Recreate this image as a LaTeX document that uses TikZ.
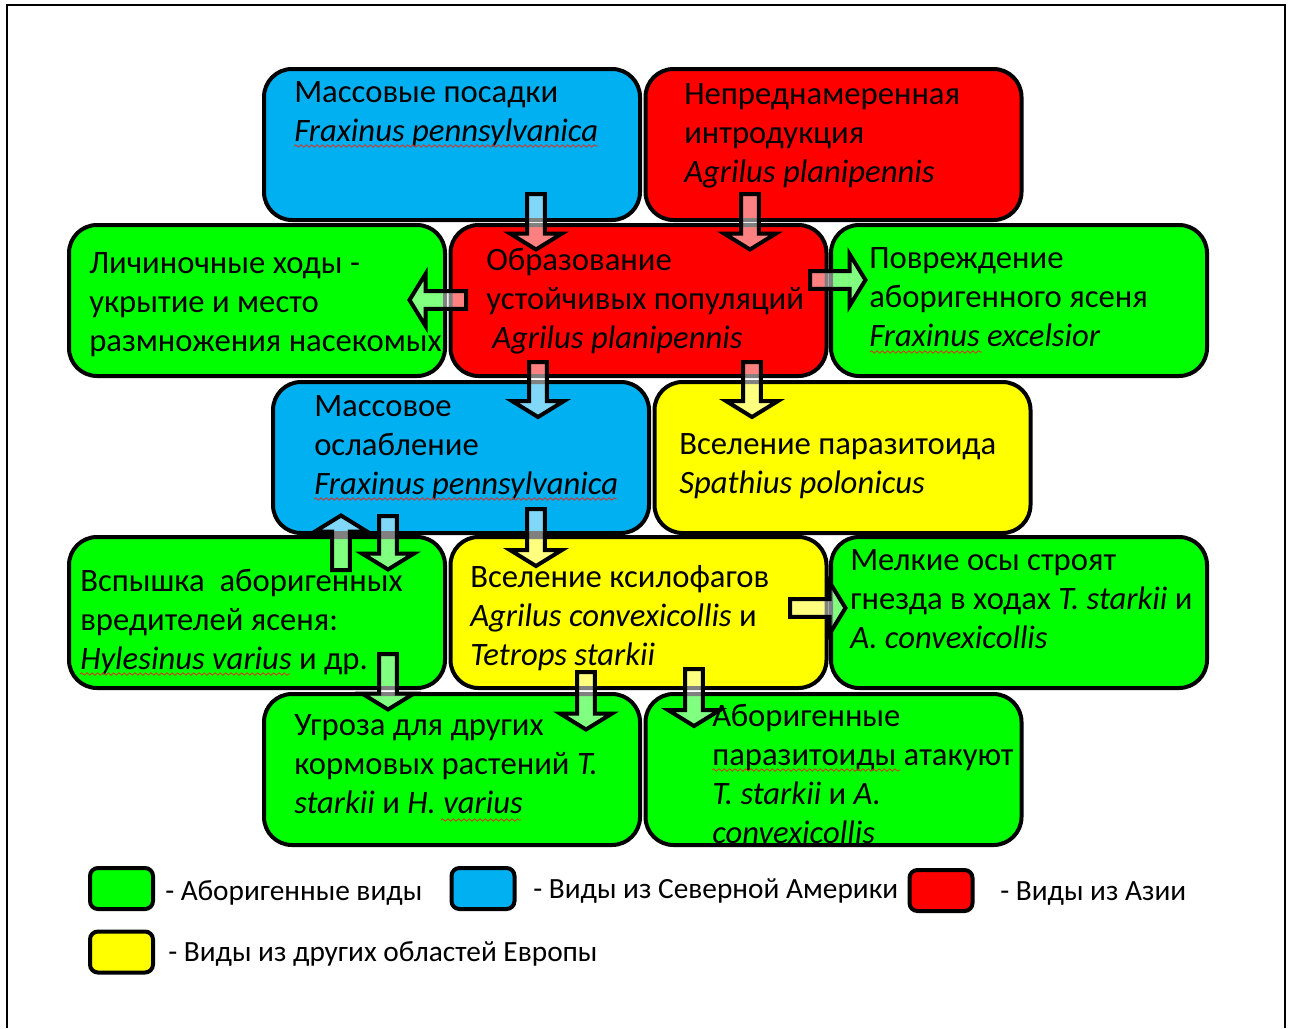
\documentclass[tikz,border=0pt]{standalone}
\usepackage{fontspec}
\setmainfont{Carlito}
\usetikzlibrary{calc,decorations.pathmorphing}
\definecolor{cgreen}{HTML}{00FF00}
\definecolor{cblue}{HTML}{00B0F0}
\definecolor{cred}{HTML}{FF0000}
\definecolor{cyellow}{HTML}{FFFF00}
\definecolor{spellred}{HTML}{E03020}
\newcommand{\blockarrow}[2]{%
 \draw[barrow] let \p1=(#1), \p2=(#2), \n1={veclen(\x2-\x1,\y2-\y1)},
   \n2={(\x2-\x1)/\n1}, \n3={(\y2-\y1)/\n1} in
 ({\x1-(\n3)*6.6pt},{\y1+(\n2)*6.6pt})
 -- ({\x2-(\n2)*12pt-(\n3)*6.6pt},{\y2-(\n3)*12pt+(\n2)*6.6pt})
 -- ({\x2-(\n2)*12pt-(\n3)*19.5pt},{\y2-(\n3)*12pt+(\n2)*19.5pt})
 -- (\p2)
 -- ({\x2-(\n2)*12pt+(\n3)*19.5pt},{\y2-(\n3)*12pt-(\n2)*19.5pt})
 -- ({\x2-(\n2)*12pt+(\n3)*6.6pt},{\y2-(\n3)*12pt-(\n2)*6.6pt})
 -- ({\x1+(\n3)*6.6pt},{\y1-(\n2)*6.6pt}) -- cycle;}
\tikzset{
 box/.style={draw=black, line width=3pt, rounded corners=21pt, minimum width=282pt, minimum height=113.25pt, inner sep=0pt},
 txt/.style={anchor=north west, inner sep=0pt, align=left, font=\fontsize{24.5}{29.25}\selectfont},
 barrow/.style={draw=black, line width=3pt, line join=miter, fill=white, fill opacity=0.5},
 spell/.style={draw=spellred, line width=0.6pt, decorate, decoration={snake, amplitude=0.9pt, segment length=4pt}},
 swatch/.style={draw=black, line width=3pt, rounded corners=6pt, minimum width=47.25pt, minimum height=30.75pt, inner sep=0pt},
 ltxt/.style={anchor=base west, inner sep=0pt, font=\fontsize{22}{26}\selectfont},
 frame/.style={draw=black, line width=2pt}
}
\begin{document}
\begin{tikzpicture}[x=0.75pt,y=-0.75pt]
\useasboundingbox (0,0) rectangle (1291,1028);
\draw[frame] (7,1028) -- (7,5) -- (1285,5) -- (1285,1028);
% boxes
\node[box, fill=cblue]   (A) at (452,144.5) {};
\node[box, fill=cred]    (B) at (833.5,144.5) {};
\node[box, fill=cgreen]  (C) at (257,300.5) {};
\node[box, fill=cred]    (D) at (638.5,300.5) {};
\node[box, fill=cgreen]  (E) at (1019,300.5) {};
\node[box, fill=cblue]   (F) at (461,457.5) {};
\node[box, fill=cyellow] (G) at (842.5,457.5) {};
\node[box, fill=cgreen]  (H) at (257,612.5) {};
\node[box, fill=cyellow] (I) at (638.5,612.5) {};
\node[box, fill=cgreen]  (J) at (1019,612.5) {};
\node[box, fill=cgreen]  (K) at (452,769.5) {};
\node[box, fill=cgreen]  (L) at (833.5,769.5) {};
% texts
\node[txt] (tA) at (294,74.7) {\strut Массовые посадки\\\strut\textit{Fraxinus pennsylvanica}};
\node[txt] (tB) at (684,76.7) {\strut Непреднамеренная\\\strut интродукция\\\strut\textit{Agrilus planipennis}};
\node[txt] (tC) at (89,245.7) {\strut Личиночные ходы -\\\strut укрытие и место\\\strut размножения насекомых};
\node[txt] (tD) at (486,242.7) {\strut Образование\\\strut устойчивых популяций\\\strut\hspace{4.5pt}\textit{Agrilus planipennis}};
\node[txt] (tE) at (869,240.7) {\strut Повреждение\\\strut аборигенного ясеня\\\strut\textit{Fraxinus excelsior}};
\node[txt] (tF) at (314,388.7) {\strut Массовое\\\strut ослабление\\\strut\textit{Fraxinus pennsylvanica}};
\node[txt] (tG) at (679,426.7) {\strut Вселение паразитоида\\\strut\textit{Spathius polonicus}};
\node[txt] (tH) at (80,563.7) {\strut Вспышка\ \ аборигенных\\\strut вредителей ясеня:\\\strut\textit{Hylesinus varius} и др.};
\node[txt] (tI) at (470,559.7) {\strut Вселение ксилофагов\\\strut\textit{Agrilus convexicollis} и\\\strut\textit{Tetrops starkii}};
\node[txt] (tJ) at (850,542.7) {\strut Мелкие осы строят\\\strut гнезда в ходах \textit{T. starkii} и\\\strut\textit{A. convexicollis}};
\node[txt] (tK) at (294,707.7) {\strut Угроза для других\\\strut кормовых растений \textit{T.}\\\strut\textit{starkii} и \textit{H. varius}};
\node[txt] (tL) at (712,698.7) {\strut Аборигенные\\\strut паразитоиды атакуют\\\strut\textit{T. starkii} и \textit{A.}\\\strut\textit{convexicollis}};
% spell-check underlines
\draw[spell] (294,146) -- (598,146);
\draw[spell] (314,499) -- (617,499);
\draw[spell] (870,352) -- (982,352);
\draw[spell] (80,674) -- (290,674);
\draw[spell] (441,820) -- (521,820);
\draw[spell] (712,770) -- (900,770);
% arrow end points
\coordinate (a1s) at ($(A)+(84,49.5)$);     \coordinate (a1e) at ($(D)+(-102.5,-51)$);
\coordinate (a2s) at ($(B)+(-83.5,49.5)$);  \coordinate (a2e) at ($(D)+(111.5,-51)$);
\coordinate (a3s) at ($(D)+(-172.5,-0.5)$); \coordinate (a3e) at ($(C)+(152.5,-0.5)$);
\coordinate (a4s) at ($(D)+(171.5,-20.5)$); \coordinate (a4e) at ($(E)+(-153.5,-20.5)$);
\coordinate (a5s) at ($(D)+(-100.5,61.5)$); \coordinate (a5e) at ($(F)+(77,-40.5)$);
\coordinate (a6s) at ($(D)+(113.5,61.5)$);  \coordinate (a6e) at ($(G)+(-90.5,-40.5)$);
\coordinate (a7s) at ($(H)+(84,-42.5)$);    \coordinate (a7e) at ($(F)+(-120,58)$);
\coordinate (a8s) at ($(F)+(-73,58.5)$);    \coordinate (a8e) at ($(H)+(131,-43)$);
\coordinate (a9s) at ($(F)+(75,51.5)$);     \coordinate (a9e) at ($(I)+(-102.5,-46.5)$);
\coordinate (a10s) at ($(I)+(151.5,-4.5)$); \coordinate (a10e) at ($(J)+(-173.5,-4.5)$);
\coordinate (a11s) at ($(H)+(131,41.5)$);   \coordinate (a11e) at ($(K)+(-64,-60)$);
\coordinate (a12s) at ($(I)+(-52.5,59.5)$); \coordinate (a12e) at ($(K)+(134,-40)$);
\coordinate (a13s) at ($(I)+(55.5,56.5)$);  \coordinate (a13e) at ($(L)+(-139.5,-43.5)$);
\blockarrow{a1s}{a1e}
\blockarrow{a2s}{a2e}
\blockarrow{a3s}{a3e}
\blockarrow{a4s}{a4e}
\blockarrow{a5s}{a5e}
\blockarrow{a6s}{a6e}
\blockarrow{a7s}{a7e}
\blockarrow{a8s}{a8e}
\blockarrow{a9s}{a9e}
\blockarrow{a10s}{a10e}
\blockarrow{a11s}{a11e}
\blockarrow{a12s}{a12e}
\blockarrow{a13s}{a13e}
% legend
\node[swatch, fill=cgreen]  (lg1) at (121.5,888.5) {};
\node[swatch, fill=cblue]   (lg2) at (483,888.5) {};
\node[swatch, fill=cred]    (lg3) at (941,890.5) {};
\node[swatch, fill=cyellow] (lg4) at (121.5,952) {};
\node[ltxt] (lt1) at (165,900) {- Аборигенные виды};
\node[ltxt] (lt2) at (533,898) {- Виды из Северной Америки};
\node[ltxt] (lt3) at (1000,900) {- Виды из Азии};
\node[ltxt] (lt4) at (168,961) {- Виды из других областей Европы};
\end{tikzpicture}
\end{document}
